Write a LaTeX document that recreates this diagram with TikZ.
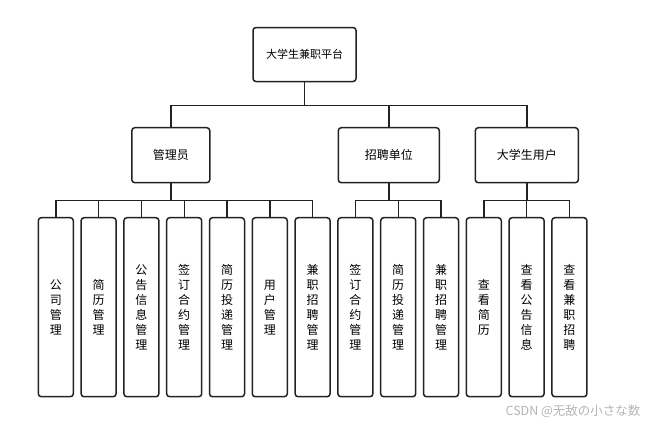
\documentclass[tikz,border=0pt]{standalone}
\usepackage{fontspec}
\setmainfont{Noto Sans CJK SC}
\usepackage{tikz}
\usetikzlibrary{positioning}
\definecolor{boxline}{HTML}{222222}
\definecolor{markgray}{HTML}{B4B4B4}
\tikzstyle{Box} = [rectangle, rounded corners=3pt, draw=boxline, line width=1.5pt, inner sep=0pt]
\tikzstyle{Leaf} = [Box, minimum width=35pt, minimum height=179pt, font=\fontsize{12}{15}\selectfont]
\tikzstyle{link} = [draw=boxline, line width=1.4pt]

\begin{document}
\begin{tikzpicture}[x=1pt, y=1pt, every text node part/.style={align=center}, node distance=42.8pt]
\useasboundingbox (0,0) rectangle (652,-426);

\node (Platform)[Box, minimum width=103pt, minimum height=54pt, font=\fontsize{11}{13}\selectfont] at (304.5,-54.5){大学生兼职平台};

\node (Admin)[Box, minimum width=78pt, minimum height=55pt, font=\fontsize{12}{14}\selectfont] at (170.8,-155.2){管理员};
\node (Employer)[Box, minimum width=101pt, minimum height=55pt, font=\fontsize{12}{14}\selectfont] at (388.8,-155.2){招聘单位};
\node (Student)[Box, minimum width=103pt, minimum height=55pt, font=\fontsize{12}{14}\selectfont] at (526.8,-155.2){大学生用户};

\node (Company)[Leaf] at (55.8,-307.2){公\\司\\管\\理};
\node (Resume)[Leaf, right of = Company]{简\\历\\管\\理};
\node (Notice)[Leaf, right of = Resume]{公\\告\\信\\息\\管\\理};
\node (Contract)[Leaf, right of = Notice]{签\\订\\合\\约\\管\\理};
\node (Delivery)[Leaf, right of = Contract]{简\\历\\投\\递\\管\\理};
\node (Users)[Leaf, right of = Delivery]{用\\户\\管\\理};
\node (Jobs)[Leaf, right of = Users]{兼\\职\\招\\聘\\管\\理};

\node (Employer Contract)[Leaf, right of = Jobs]{签\\订\\合\\约\\管\\理};
\node (Employer Delivery)[Leaf, right of = Employer Contract]{简\\历\\投\\递\\管\\理};
\node (Employer Jobs)[Leaf, right of = Employer Delivery]{兼\\职\\招\\聘\\管\\理};

\node (View Resume)[Leaf, right of = Employer Jobs]{查\\看\\简\\历};
\node (View Notice)[Leaf, right of = View Resume]{查\\看\\公\\告\\信\\息};
\node (View Jobs)[Leaf, right of = View Notice]{查\\看\\兼\\职\\招\\聘};

\node (Watermark)[anchor=east, text=markgray, font=\fontsize{12.5}{14}\selectfont] at (644,-411){CSDN @无敌の小さな数};

\draw[link](Platform.south)--++(0,-23)-|(Admin.north);
\draw[link](Platform.south)--++(0,-23)-|(Employer.north);
\draw[link](Platform.south)--++(0,-23)-|(Student.north);

\draw[link](Admin.south)--++(0,-17.3)-|(Company.north);
\draw[link](Admin.south)--++(0,-17.3)-|(Resume.north);
\draw[link](Admin.south)--++(0,-17.3)-|(Notice.north);
\draw[link](Admin.south)--++(0,-17.3)-|(Contract.north);
\draw[link](Admin.south)--++(0,-17.3)-|(Delivery.north);
\draw[link](Admin.south)--++(0,-17.3)-|(Users.north);
\draw[link](Admin.south)--++(0,-17.3)-|(Jobs.north);

\draw[link](Employer.south)--++(0,-17.3)-|(Employer Contract.north);
\draw[link](Employer.south)--++(0,-17.3)-|(Employer Delivery.north);
\draw[link](Employer.south)--++(0,-17.3)-|(Employer Jobs.north);

\draw[link](Student.south)--++(0,-17.3)-|(View Resume.north);
\draw[link](Student.south)--++(0,-17.3)-|(View Notice.north);
\draw[link](Student.south)--++(0,-17.3)-|(View Jobs.north);

\end{tikzpicture}
\end{document}
